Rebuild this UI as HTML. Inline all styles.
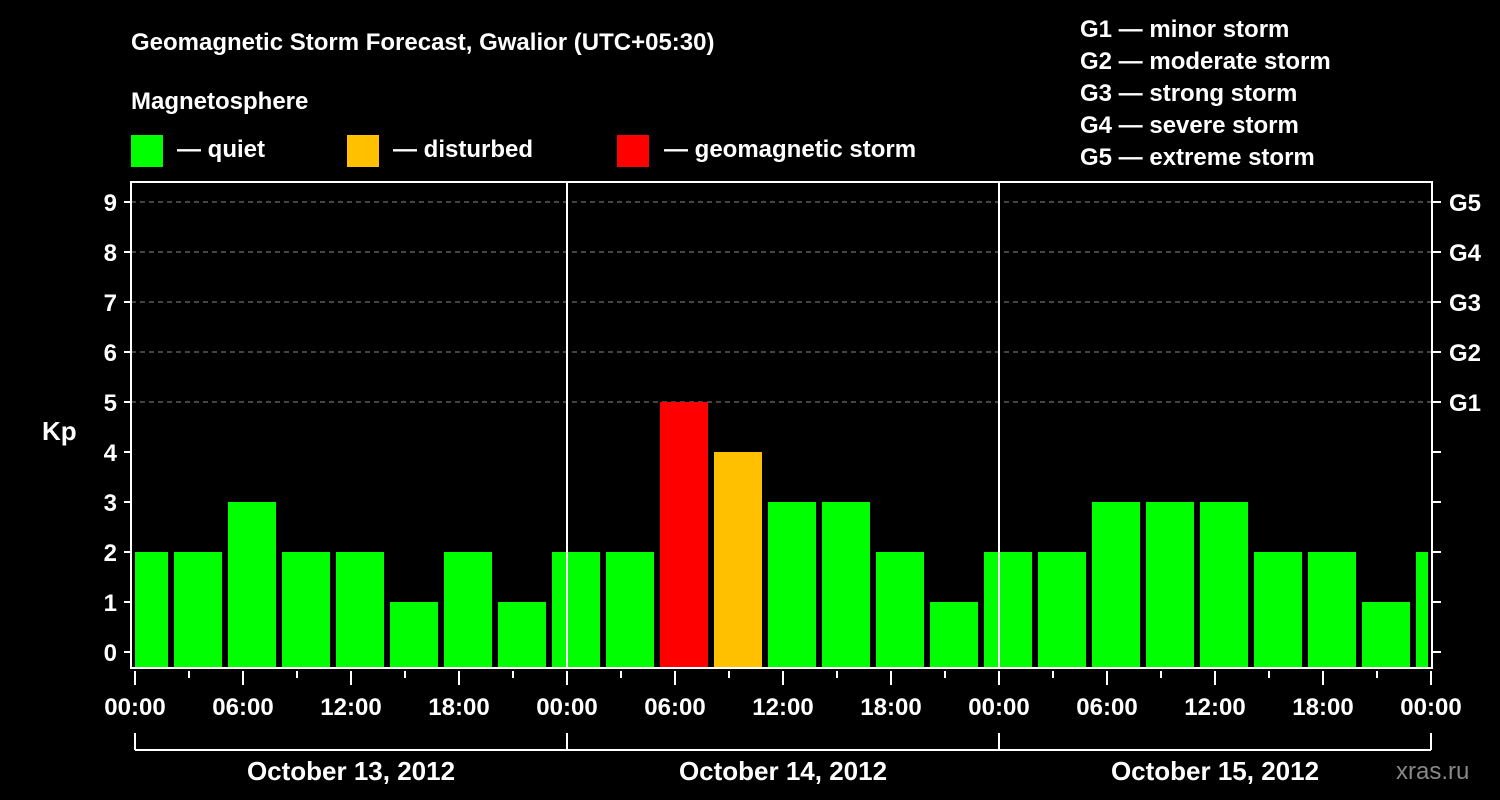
<!DOCTYPE html>
<html><head><meta charset="utf-8">
<style>
body{margin:0;background:#000;width:1500px;height:800px;overflow:hidden}
svg{display:block;font-family:"Liberation Sans",Arial,sans-serif;font-weight:bold;fill:#fff}
</style></head>
<body>
<svg id="chart" width="1500" height="800" xmlns="http://www.w3.org/2000/svg">
<rect width="1500" height="800" fill="#000"/>
<text x="131" y="50" font-size="24">Geomagnetic Storm Forecast, Gwalior (UTC+05:30)</text>
<text x="131" y="109" font-size="24">Magnetosphere</text>
<g><rect x="131" y="135" width="32" height="32" fill="#00ff00"/><text x="177" y="157" font-size="24">— quiet</text></g>
<g><rect x="347" y="135" width="32" height="32" fill="#ffc000"/><text x="393" y="157" font-size="24">— disturbed</text></g>
<g><rect x="617" y="135" width="32" height="32" fill="#ff0000"/><text x="664" y="157" font-size="24">— geomagnetic storm</text></g>
<g font-size="24">
<text x="1080" y="37">G1 — minor storm</text>
<text x="1080" y="69">G2 — moderate storm</text>
<text x="1080" y="101">G3 — strong storm</text>
<text x="1080" y="133">G4 — severe storm</text>
<text x="1080" y="165">G5 — extreme storm</text>
</g>
<text x="42" y="440" font-size="26">Kp</text>
<text x="1396" y="779" font-size="24" fill="#888" style="fill:#888;font-weight:normal">xras.ru</text>
<g id="grid"></g><g id="bars"></g><g id="axes"></g>
</svg>
<script>
const kpValues=[2,2,3,2,2,1,2,1,2,2,5,4,3,3,2,1,2,2,3,3,3,2,2,1,2];
const kpTicks=[0,1,2,3,4,5,6,7,8,9];
const gLabels=["G1","G2","G3","G4","G5"];
const hourLabels=["00:00","06:00","12:00","18:00"];
const dayLabels=["October 13, 2012","October 14, 2012","October 15, 2012"];
const NS="http://www.w3.org/2000/svg";
const L=131,R=1432,T=182,B=668,X0=135,PXH=18;
const y=k=>652-50*k;
const x=h=>X0+h*PXH;
function mk(tag,attrs,parent){const e=document.createElementNS(NS,tag);for(const k in attrs)e.setAttribute(k,attrs[k]);document.getElementById(parent).appendChild(e);return e;}
// grid
for(let k=5;k<=9;k++){const e=mk('line',{x1:L,x2:R,y1:y(k),y2:y(k),stroke:'#888','stroke-dasharray':'5,4','stroke-width':1},'grid');

}
// bars
kpValues.forEach((v,i)=>{const c=x(3*i+0.5);let x1=Math.max(c-24,L+4),x2=Math.min(c+24,R-4);
const col=v>=5?'#ff0000':(v>=4?'#ffc000':'#00ff00');
const e=mk('rect',{x:x1,y:y(v),width:x2-x1,height:B-y(v),fill:col},'bars');

});
// frame
const f=mk('rect',{x:L,y:T,width:R-L,height:B-T,fill:'none',stroke:'#fff','stroke-width':2},'axes');


[1,2].forEach(d=>{const e=mk('line',{x1:x(24*d),x2:x(24*d),y1:T,y2:B,stroke:'#fff','stroke-width':2},'axes');

});
kpTicks.forEach(k=>{mk('line',{x1:L-7,x2:L,y1:y(k),y2:y(k),stroke:'#fff','stroke-width':2},'axes');
mk('line',{x1:R,x2:R+9,y1:y(k),y2:y(k),stroke:'#fff','stroke-width':2},'axes');
const t=mk('text',{x:L-14,y:y(k)+9,'font-size':24,'text-anchor':'end'},'axes');t.textContent=k;

});
gLabels.forEach((g,i)=>{const t=mk('text',{x:1449,y:y(5+i)+9,'font-size':24},'axes');t.textContent=g;

});
for(let h=0;h<=72;h+=3){const maj=h%6===0;mk('line',{x1:x(h),x2:x(h),y1:B+3,y2:maj?B+17:B+10,stroke:'#fff','stroke-width':2},'axes');
if(maj){const t=mk('text',{x:x(h),y:715,'font-size':24,'text-anchor':'middle'},'axes');t.textContent=hourLabels[(h/6)%4];

}}
mk('line',{x1:x(0),x2:x(72),y1:750,y2:750,stroke:'#fff','stroke-width':2},'axes');
for(let d=0;d<=3;d++)mk('line',{x1:x(24*d),x2:x(24*d),y1:733,y2:750,stroke:'#fff','stroke-width':2},'axes');
dayLabels.forEach((s,d)=>{const t=mk('text',{x:x(24*d+12),y:780,'font-size':26,'text-anchor':'middle'},'axes');t.textContent=s;

});
</script>
</body></html>
